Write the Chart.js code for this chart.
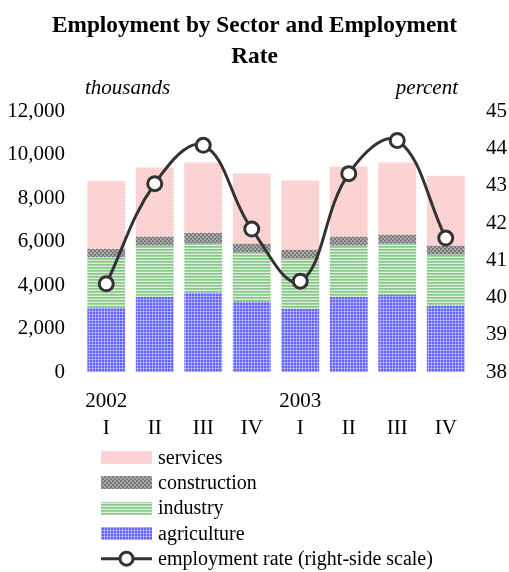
<!DOCTYPE html>
<html>
<head>
<meta charset="utf-8">
<script src="https://cdn.jsdelivr.net/npm/chart.js@4/dist/chart.umd.min.js"></script>
<style>
  html, body { margin: 0; padding: 0; background: #fff; }
  #wrap { width: 509px; height: 572px; position: relative; }
</style>
</head>
<body>
<div id="wrap"><canvas id="chart" width="509" height="572"></canvas></div>
<script>
const years = ['2002', '', '', '', '2003', '', '', ''];
const quarters = ['I', 'II', 'III', 'IV', 'I', 'II', 'III', 'IV'];
const agriculture = [2970, 3460, 3650, 3245, 2910, 3460, 3555, 3060];
const industry = [2300, 2355, 2290, 2250, 2305, 2355, 2355, 2340];
const construction = [400, 415, 460, 415, 415, 415, 415, 415];
const services = [3140, 3185, 3250, 3230, 3185, 3230, 3320, 3230];
const employmentRate = [40.37, 43.06, 44.09, 41.84, 40.44, 43.33, 44.22, 41.6];
const leftTicks = [0, 2000, 4000, 6000, 8000, 10000, 12000];
const rightTicks = [38, 39, 40, 41, 42, 43, 44, 45];

const FONT = "'Liberation Serif', 'Times New Roman', serif";
const canvas = document.getElementById('chart');
const ctx = canvas.getContext('2d');

function makePattern(size, draw) {
  const c = document.createElement('canvas');
  c.width = size;
  c.height = size;
  draw(c.getContext('2d'));
  return ctx.createPattern(c, 'repeat');
}

const servicesFill = makePattern(4, g => {
  g.fillStyle = '#ffd6d6';
  g.fillRect(0, 0, 4, 4);
  g.fillStyle = '#f3bcbc';
  g.fillRect(0, 0, 1, 1);
  g.fillRect(2, 2, 1, 1);
});

const constructionFill = makePattern(4, g => {
  g.fillStyle = '#a8a8a8';
  g.fillRect(0, 0, 4, 4);
  g.fillStyle = '#7a7a7a';
  g.fillRect(0, 0, 2, 2);
  g.fillRect(2, 2, 2, 2);
});

const industryFill = makePattern(3, g => {
  g.fillStyle = '#dcefdc';
  g.fillRect(0, 0, 3, 3);
  g.fillStyle = '#86c686';
  g.fillRect(0, 0, 3, 1);
  g.fillStyle = '#a4d4a4';
  g.fillRect(0, 1, 3, 1);
});

const agricultureFill = makePattern(3, g => {
  g.fillStyle = '#6464ff';
  g.fillRect(0, 0, 3, 3);
  g.fillStyle = '#9e9eff';
  g.fillRect(0, 2, 3, 1);
  g.fillRect(2, 0, 1, 3);
  g.fillStyle = '#c4c4ff';
  g.fillRect(2, 2, 1, 1);
});

const unitLabels = {
  id: 'unitLabels',
  afterDraw(chart) {
    const c = chart.ctx;
    const area = chart.chartArea;
    c.save();
    c.font = 'italic 21px ' + FONT;
    c.fillStyle = '#000';
    c.textBaseline = 'middle';
    c.textAlign = 'left';
    c.fillText('thousands', area.left + 3, 88);
    c.textAlign = 'right';
    c.fillText('percent', area.right - 12, 88);
    c.restore();
  }
};

const boxLegend = {
  id: 'boxLegend',
  afterDraw(chart) {
    const c = chart.ctx;
    const sets = chart.data.datasets;
    const bars = sets.filter(d => d.type === 'bar').reverse();
    const lines = sets.filter(d => d.type === 'line');
    const items = bars.concat(lines);
    const x = 101, w = 51, h = 13;
    let y = 457.5;
    c.save();
    c.font = '20px ' + FONT;
    c.textBaseline = 'middle';
    c.textAlign = 'left';
    items.forEach(d => {
      if (d.type === 'bar') {
        c.fillStyle = d.backgroundColor;
        c.fillRect(x, Math.round(y - h / 2), w, h);
      } else {
        c.strokeStyle = d.borderColor;
        c.lineWidth = 3;
        c.beginPath();
        c.moveTo(x, y);
        c.lineTo(x + w, y);
        c.stroke();
        c.beginPath();
        c.arc(x + w / 2, y, 6.5, 0, Math.PI * 2);
        c.fillStyle = '#fff';
        c.fill();
        c.stroke();
      }
      c.fillStyle = '#000';
      c.fillText(d.label, 158, y + 1);
      y += 25.3;
    });
    c.restore();
  }
};

new Chart(ctx, {
  data: {
    labels: quarters.map((q, i) => [years[i], q]),
    datasets: [
      {
        type: 'line',
        label: 'employment rate (right-side scale)',
        data: employmentRate,
        yAxisID: 'yRight',
        borderColor: '#333333',
        borderWidth: 3,
        tension: 0.4,
        pointRadius: 7,
        pointBackgroundColor: '#ffffff',
        pointBorderColor: '#333333',
        pointBorderWidth: 3,
        order: 0
      },
      { type: 'bar', label: 'agriculture', data: agriculture, backgroundColor: agricultureFill, yAxisID: 'y', stack: 's', order: 1 },
      { type: 'bar', label: 'industry', data: industry, backgroundColor: industryFill, yAxisID: 'y', stack: 's', order: 1 },
      { type: 'bar', label: 'construction', data: construction, backgroundColor: constructionFill, yAxisID: 'y', stack: 's', order: 1 },
      { type: 'bar', label: 'services', data: services, backgroundColor: servicesFill, yAxisID: 'y', stack: 's', order: 1 }
    ]
  },
  options: {
    responsive: false,
    animation: false,
    layout: { padding: 0 },
    datasets: {
      bar: { barPercentage: 0.78, categoryPercentage: 1 }
    },
    plugins: {
      legend: { display: false },
      tooltip: { enabled: false },
      title: {
        display: true,
        text: ['Employment by Sector and Employment', 'Rate'],
        color: '#000',
        font: { family: FONT, size: 23.3, weight: 'bold', lineHeight: 1.33 },
        padding: { top: 10, bottom: 39.5 }
      }
    },
    scales: {
      x: {
        stacked: true,
        grid: { display: false, drawTicks: false },
        border: { display: false },
        ticks: {
          color: '#000',
          autoSkip: false,
          maxRotation: 0,
          padding: 16,
          font: { family: FONT, size: 21, lineHeight: 1.29 }
        },
        afterFit: s => { s.height = 200; }
      },
      y: {
        position: 'left',
        stacked: true,
        min: 0,
        max: 12000,
        grid: { display: false, drawTicks: false },
        border: { display: false },
        afterBuildTicks: s => { s.ticks = leftTicks.map(v => ({ value: v })); },
        ticks: {
          color: '#000',
          padding: 17,
          font: { family: FONT, size: 21 },
          callback: v => v.toLocaleString('en-US')
        },
        afterFit: s => { s.width = 82; }
      },
      yRight: {
        position: 'right',
        min: 38,
        max: 45,
        grid: { display: false, drawTicks: false },
        border: { display: false },
        afterBuildTicks: s => { s.ticks = rightTicks.map(v => ({ value: v })); },
        ticks: {
          color: '#000',
          padding: 16,
          font: { family: FONT, size: 21 }
        },
        afterFit: s => { s.width = 39; }
      }
    }
  },
  plugins: [unitLabels, boxLegend]
});
</script>
</body>
</html>
